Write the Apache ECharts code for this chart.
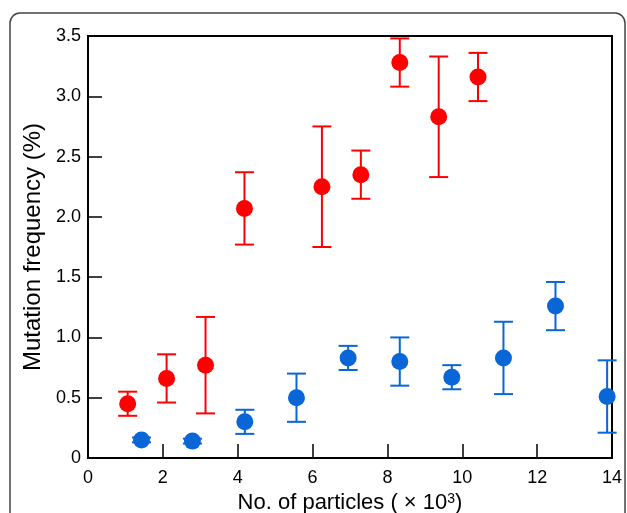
<!DOCTYPE html>
<html>
<head>
<meta charset="utf-8">
<script src="https://cdn.jsdelivr.net/npm/echarts@6/dist/echarts.min.js"></script>
<style>
html, body { margin: 0; padding: 0; background: #fff; }
#chart { width: 627px; height: 513px; }
</style>
</head>
<body>
<div id="chart"></div>
<script>
// red group: x (×10^3), frequency (%), error
const redX = [1.06, 2.1, 3.14, 4.18, 6.25, 7.29, 8.33, 9.37, 10.42]
const redY = [0.45, 0.66, 0.77, 2.07, 2.25, 2.35, 3.28, 2.83, 3.16]
const redErr = [0.1, 0.2, 0.4, 0.3, 0.5, 0.2, 0.2, 0.5, 0.2]

// blue group
const blueX = [1.43, 2.79, 4.19, 5.57, 6.95, 8.33, 9.72, 11.1, 12.49, 13.87]
const blueY = [0.15, 0.14, 0.3, 0.5, 0.83, 0.8, 0.67, 0.83, 1.26, 0.51]
const blueErr = [0.02, 0.02, 0.1, 0.2, 0.1, 0.2, 0.1, 0.3, 0.2, 0.3]

const RED = '#ff0000'
const BLUE = '#0866d6'
const FONT = 'Liberation Sans'

function points (xs, ys) {
  return xs.map((x, i) => [x, ys[i]])
}

function ranges (xs, ys, es) {
  return xs.map((x, i) => [x, ys[i] - es[i], ys[i] + es[i]])
}

// error bar with caps
function errorBar (color) {
  return function (params, api) {
    let x = api.value(0)
    let top = api.coord([x, api.value(2)])
    let bot = api.coord([x, api.value(1)])
    let w = 9.5
    let style = { stroke: color, lineWidth: 2 }
    return {
      type: 'group',
      children: [
        { type: 'line', shape: { x1: top[0], y1: top[1], x2: bot[0], y2: bot[1] }, style: style },
        { type: 'line', shape: { x1: top[0] - w, y1: top[1], x2: top[0] + w, y2: top[1] }, style: style },
        { type: 'line', shape: { x1: bot[0] - w, y1: bot[1], x2: bot[0] + w, y2: bot[1] }, style: style }
      ]
    }
  }
}

let myChart = echarts.init(document.getElementById('chart'))
myChart.setOption({
  animation: false,
  backgroundColor: '#fff',
  graphic: [
    {
      type: 'rect',
      shape: { x: 10, y: 13, width: 615, height: 540, r: 10 },
      style: { fill: 'none', stroke: '#444', lineWidth: 1.5 },
      z: -1
    }
  ],
  grid: {
    left: 88,
    right: 15,
    top: 36,
    bottom: 55,
    outerBoundsMode: 'none',
    show: true,
    borderColor: '#000',
    borderWidth: 2
  },
  xAxis: {
    type: 'value',
    min: 0,
    max: 14,
    interval: 2,
    name: '{a|No. of particles ( \u00d7 10}{s|3}{a|)}',
    nameLocation: 'middle',
    nameGap: 34,
    nameTextStyle: {
      fontFamily: FONT,
      fontSize: 22,
      color: '#000',
      rich: {
        a: { fontFamily: FONT, fontSize: 22, color: '#000' },
        s: { fontFamily: FONT, fontSize: 14, color: '#000', verticalAlign: 'top' }
      }
    },
    axisLine: { lineStyle: { color: '#000', width: 2 } },
    axisTick: { inside: true, length: 14, lineStyle: { color: '#000', width: 1.5 } },
    axisLabel: { margin: 11, fontFamily: FONT, fontSize: 18, color: '#000' },
    splitLine: { show: false }
  },
  yAxis: {
    type: 'value',
    min: 0,
    max: 3.5,
    interval: 0.5,
    name: 'Mutation frequency (%)',
    nameLocation: 'middle',
    nameGap: 41,
    nameTextStyle: { fontFamily: FONT, fontSize: 24, color: '#000' },
    axisLine: { lineStyle: { color: '#000', width: 2 } },
    axisTick: { inside: true, length: 14, lineStyle: { color: '#000', width: 1.5 } },
    axisLabel: {
      margin: 7,
      fontFamily: FONT,
      fontSize: 18,
      color: '#000',
      formatter: v => (v === 0 ? '0' : v.toFixed(1))
    },
    splitLine: { show: false }
  },
  series: [
    {
      type: 'custom',
      renderItem: errorBar(RED),
      encode: { x: 0, y: [1, 2] },
      clip: false,
      data: ranges(redX, redY, redErr),
      z: 2
    },
    {
      type: 'custom',
      renderItem: errorBar(BLUE),
      encode: { x: 0, y: [1, 2] },
      clip: false,
      data: ranges(blueX, blueY, blueErr),
      z: 2
    },
    {
      type: 'scatter',
      symbol: 'circle',
      symbolSize: 17,
      clip: false,
      itemStyle: { color: RED, opacity: 1 },
      data: points(redX, redY),
      z: 3
    },
    {
      type: 'scatter',
      symbol: 'circle',
      symbolSize: 17,
      clip: false,
      itemStyle: { color: BLUE, opacity: 1 },
      data: points(blueX, blueY),
      z: 3
    }
  ]
})
</script>
</body>
</html>
